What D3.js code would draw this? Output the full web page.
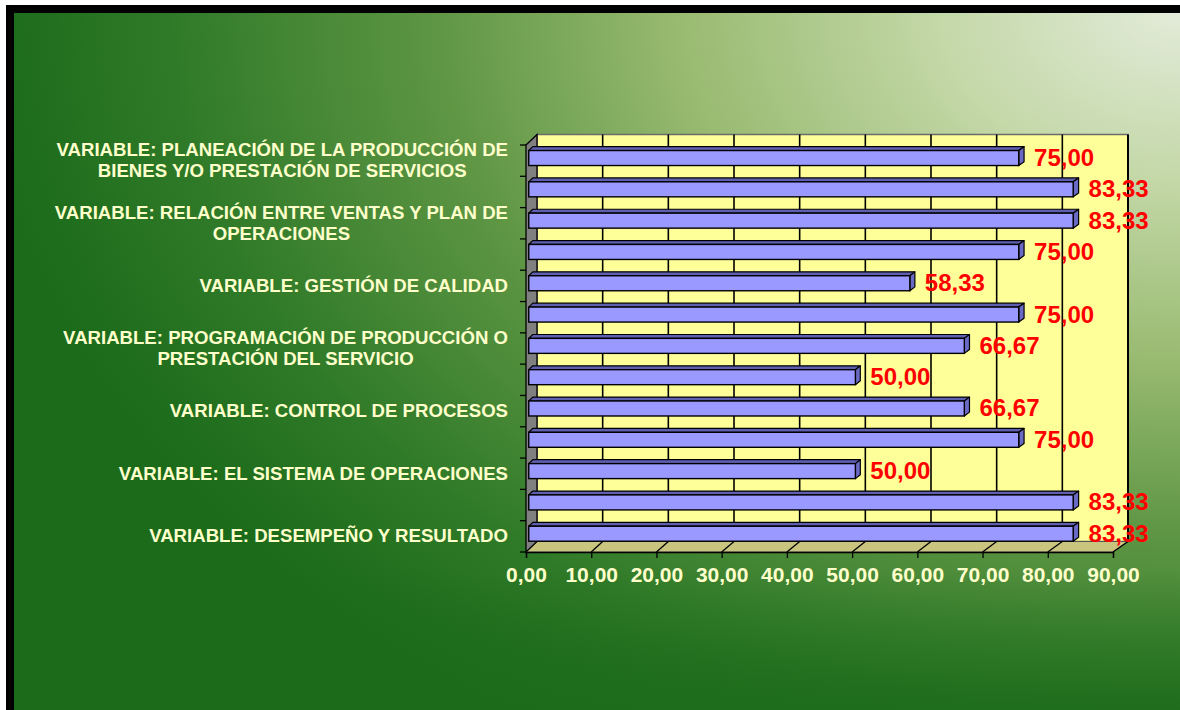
<!DOCTYPE html>
<html>
<head>
<meta charset="utf-8">
<script src="https://cdn.jsdelivr.net/npm/d3@7"></script>
<style>
  html, body { margin: 0; padding: 0; background: #ffffff; }
  svg { display: block; }
  text { font-family: "Liberation Sans", Arial, Helvetica, sans-serif; font-weight: bold; }
</style>
</head>
<body>
<svg id="chart" width="1180" height="710"></svg>
<script>
// Categories, bottom to top (only every other one carries a visible label)
const categories = [
  "VARIABLE: DESEMPEÑO Y RESULTADO",
  "",
  "VARIABLE: EL SISTEMA DE OPERACIONES",
  "",
  "VARIABLE: CONTROL DE PROCESOS",
  "",
  "VARIABLE: PROGRAMACIÓN DE PRODUCCIÓN O\nPRESTACIÓN DEL SERVICIO",
  "",
  "VARIABLE: GESTIÓN DE CALIDAD",
  "",
  "VARIABLE: RELACIÓN ENTRE VENTAS Y PLAN DE\nOPERACIONES",
  "",
  "VARIABLE: PLANEACIÓN DE LA PRODUCCIÓN DE\nBIENES Y/O PRESTACIÓN DE SERVICIOS"
];
const values = [83.33, 83.33, 50.00, 75.00, 66.67, 50.00, 66.67, 75.00, 58.33, 75.00, 83.33, 83.33, 75.00];
const xTicks = [0, 10, 20, 30, 40, 50, 60, 70, 80, 90];

const svg = d3.select("#chart");
const W = 1180, H = 710;

// Spanish number format: comma as decimal separator
const esLocale = d3.formatLocale({ decimal: ",", thousands: ".", grouping: [3], currency: ["", " €"] });
const fmt = esLocale.format(".2f");

// ---- background -------------------------------------------------------
const defs = svg.append("defs");
const bg = defs.append("radialGradient")
  .attr("id", "bgGrad")
  .attr("gradientUnits", "userSpaceOnUse")
  .attr("cx", 0).attr("cy", 0).attr("r", 1200)
  .attr("gradientTransform", "translate(1180,10) scale(1,0.7)");
[[0, "#e2ebd9"], [0.2, "#c4d8a8"], [0.42, "#98ba70"], [0.62, "#5e9644"], [0.84, "#2f7a28"], [1, "#1b6b1a"]]
  .forEach(([o, c]) => bg.append("stop").attr("offset", o).attr("stop-color", c));
// darkening toward the bottom edge
const shade = defs.append("linearGradient").attr("id", "bottomShade").attr("x1", 0).attr("y1", 0).attr("x2", 0).attr("y2", 1);
shade.append("stop").attr("offset", 0.8).attr("stop-color", "#1b6b1a").attr("stop-opacity", 0);
shade.append("stop").attr("offset", 1).attr("stop-color", "#1b6b1a").attr("stop-opacity", 0.8);

svg.append("rect").attr("x", 0).attr("y", 0).attr("width", W).attr("height", H).attr("fill", "#ffffff");
svg.append("rect").attr("x", 14).attr("y", 13).attr("width", W - 14).attr("height", H - 13).attr("fill", "url(#bgGrad)");
svg.append("rect").attr("x", 14).attr("y", 13).attr("width", W - 14).attr("height", H - 13).attr("fill", "url(#bottomShade)");
// frame along top and left edges
svg.append("rect").attr("x", 6).attr("y", 5).attr("width", W - 6).attr("height", 8).attr("fill", "#000");
svg.append("rect").attr("x", 6).attr("y", 5).attr("width", 8).attr("height", H - 5).attr("fill", "#000");

// ---- 3D plot geometry ---------------------------------------------------
const plotTop = 145, plotBottom = 552;
const depthY = 10.5;
const xFront = d3.scaleLinear().domain([0, 90]).range([526, 1113]);
const xBack = d3.scaleLinear().domain([0, 90]).range([537, 1128]);
const y = d3.scaleBand().domain(d3.range(categories.length)).range([plotBottom, plotTop]).paddingInner(0).paddingOuter(0);

// position at depth t (0 = front plane, 1 = back wall)
const X = (v, t) => xFront(v) + t * (xBack(v) - xFront(v));
const Yd = (yy, t) => yy - t * depthY;

const g = svg.append("g");

// back wall
g.append("rect")
  .attr("x", xBack(0)).attr("y", plotTop - depthY)
  .attr("width", xBack(90) - xBack(0)).attr("height", plotBottom - plotTop)
  .attr("fill", "#ffff99").attr("stroke", "#6b6b6b").attr("stroke-width", 1.5);
g.append("line")
  .attr("x1", xBack(90)).attr("x2", xBack(90))
  .attr("y1", plotTop - depthY).attr("y2", plotBottom - depthY)
  .attr("stroke", "#000").attr("stroke-width", 2);

// vertical gridlines on back wall
g.selectAll("line.grid").data(xTicks.filter(d => d > 0 && d < 90)).enter().append("line")
  .attr("class", "grid")
  .attr("x1", d => xBack(d)).attr("x2", d => xBack(d))
  .attr("y1", plotTop - depthY).attr("y2", plotBottom - depthY)
  .attr("stroke", "#000").attr("stroke-width", 1.6);

// floor
g.append("path")
  .attr("d", `M${xFront(0)},${plotBottom}L${xFront(90)},${plotBottom}L${xBack(90)},${plotBottom - depthY}L${xBack(0)},${plotBottom - depthY}Z`)
  .attr("fill", "#c9c57f").attr("stroke", "#555").attr("stroke-width", 1);
g.selectAll("line.floor").data(xTicks.filter(d => d > 0)).enter().append("line")
  .attr("class", "floor")
  .attr("x1", d => xFront(d)).attr("y1", plotBottom)
  .attr("x2", d => xBack(d)).attr("y2", plotBottom - depthY)
  .attr("stroke", "#000").attr("stroke-width", 1.3);

// left wall
g.append("path")
  .attr("d", `M${xFront(0)},${plotTop}L${xBack(0)},${plotTop - depthY}L${xBack(0)},${plotBottom - depthY}L${xFront(0)},${plotBottom}Z`)
  .attr("fill", "#808080").attr("stroke", "#000").attr("stroke-width", 1.3);

// category tick marks on the wall's front edge
const bounds = d3.range(categories.length + 1).map(i => plotBottom - i * y.step());
g.selectAll("line.ctick").data(bounds).enter().append("line")
  .attr("class", "ctick")
  .attr("x1", xFront(0) - 6).attr("x2", xFront(0))
  .attr("y1", d => d).attr("y2", d => d)
  .attr("stroke", "#000").attr("stroke-width", 1.3);

// ---- bars ----------------------------------------------------------------
const t1 = 0.25, t2 = 0.62, barH = 15;
const bars = g.selectAll("g.bar").data(values).enter().append("g").attr("class", "bar");
bars.each(function (v, i) {
  const sel = d3.select(this);
  const yc = y(i) + y.bandwidth() / 2;
  const top1 = Yd(yc - barH / 2, t1), bot1 = Yd(yc + barH / 2, t1);
  const top2 = Yd(yc - barH / 2, t2), bot2 = Yd(yc + barH / 2, t2);
  // top face
  sel.append("path")
    .attr("d", `M${X(0, t1)},${top1}L${X(v, t1)},${top1}L${X(v, t2)},${top2}L${X(0, t2)},${top2}Z`)
    .attr("fill", "#5f5fb2").attr("stroke", "#000").attr("stroke-width", 1.2).attr("stroke-linejoin", "round");
  // end face
  sel.append("path")
    .attr("d", `M${X(v, t1)},${top1}L${X(v, t2)},${top2}L${X(v, t2)},${bot2}L${X(v, t1)},${bot1}Z`)
    .attr("fill", "#6a6ac4").attr("stroke", "#000").attr("stroke-width", 1.2).attr("stroke-linejoin", "round");
  // front face
  sel.append("rect")
    .attr("x", X(0, t1)).attr("y", top1)
    .attr("width", X(v, t1) - X(0, t1)).attr("height", barH)
    .attr("fill", "#9999ff").attr("stroke", "#000").attr("stroke-width", 1.4);
  // value label
  sel.append("text")
    .attr("x", X(v, t2) + 10)
    .attr("y", Yd(yc, t1) + 8)
    .attr("fill", "#ff0000")
    .attr("font-size", 24)
    .text(fmt(v));
});

// ---- value axis ----------------------------------------------------------
const xAxis = d3.axisBottom(xFront).tickValues(xTicks).tickFormat(fmt).tickSize(6).tickPadding(9);
const ax = svg.append("g").attr("transform", `translate(0,${plotBottom})`).call(xAxis);
ax.select(".domain").attr("stroke", "#000").attr("stroke-width", 1.3);
ax.selectAll(".tick line").attr("stroke", "#000").attr("stroke-width", 1.3);
ax.selectAll(".tick text")
  .attr("fill", "#ffffcc")
  .attr("font-size", 21)
  .attr("font-family", "\"Liberation Sans\", Arial, sans-serif")
  .attr("font-weight", "bold");

// ---- category labels -------------------------------------------------------
const labelRight = 508, lineH = 21;
categories.forEach((c, i) => {
  if (!c) return;
  const lines = c.split("\n");
  const yc = y(i) + y.bandwidth() / 2;
  const t = svg.append("text")
    .attr("fill", "#ffffcc")
    .attr("font-size", 18.6)
    .attr("text-anchor", "middle");
  lines.forEach((ln, k) => {
    t.append("tspan")
      .attr("y", yc + 6 + (k - (lines.length - 1) / 2) * lineH)
      .text(ln);
  });
  let maxW = 0;
  t.selectAll("tspan").each(function () { maxW = Math.max(maxW, this.getComputedTextLength()); });
  t.selectAll("tspan").attr("x", labelRight - maxW / 2);
});
</script>
</body>
</html>
